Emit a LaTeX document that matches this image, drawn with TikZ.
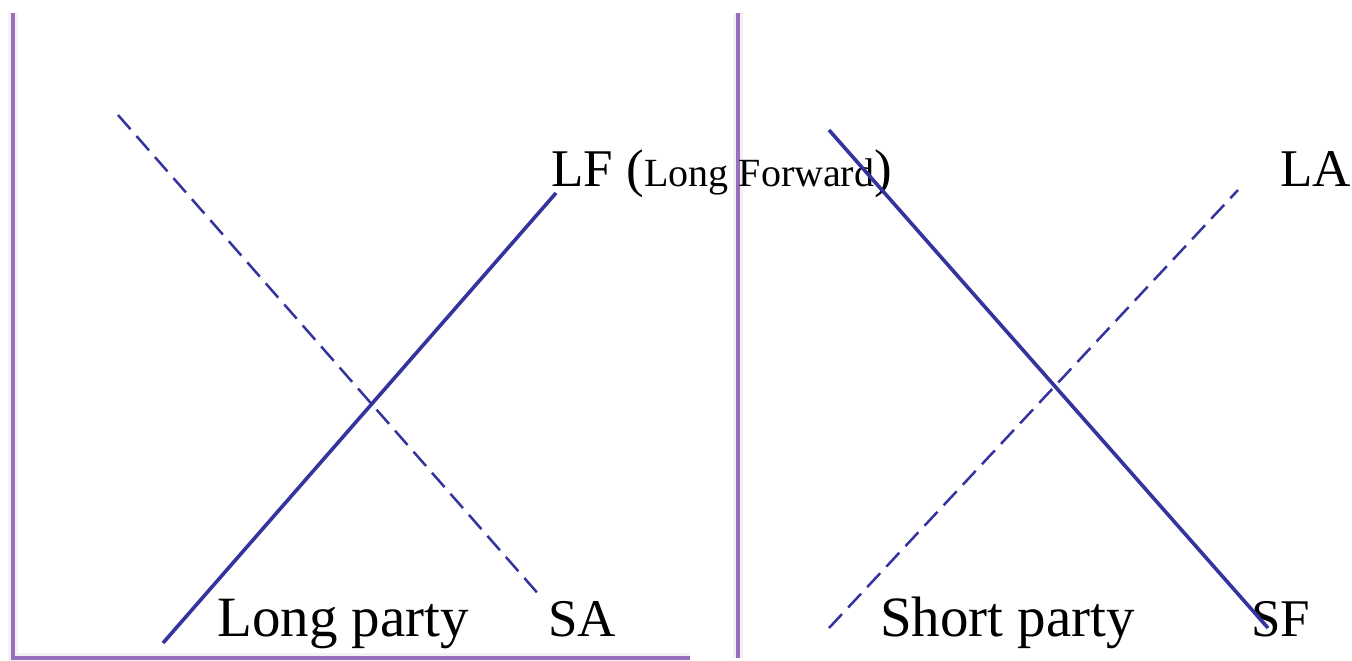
\documentclass[tikz,border=0pt]{standalone}
\usepackage{fontspec}
\setmainfont{Liberation Serif}
\begin{document}
\begin{tikzpicture}[x=1pt,y=-1pt,
  axisshade/.style={draw=black!5,line width=10pt},
  axisline/.style={draw={rgb,255:red,150;green,112;blue,188},line width=4pt},
  curve/.style={draw={rgb,255:red,52;green,52;blue,158},line width=3.6pt},
  dashcurve/.style={draw={rgb,255:red,52;green,52;blue,158},line width=2.5pt,dash pattern=on 19pt off 9pt},
  big/.style={inner sep=0pt,anchor=base west,font=\fontsize{57}{60}\selectfont},
  caps/.style={inner sep=0pt,anchor=base west,font=\fontsize{53}{60}\selectfont},
  small/.style={inner sep=0pt,anchor=base west,font=\fontsize{40}{44}\selectfont}]
\useasboundingbox[fill=white] (0,0) rectangle (1352,661);
% axis end points
\coordinate (o1) at (13,658);
\coordinate (t1) at (13,13);
\coordinate (x1) at (690,658);
\coordinate (o2) at (738,658);
\coordinate (t2) at (738,13);
% soft shadow under the axes
\draw[axisshade] (t1) -- (o1) -- (x1);
\draw[axisshade] (t2) -- (o2);
\draw[axisline] (t1) -- (o1) -- (x1);
\draw[axisline] (t2) -- (o2);
% left panel: long party
\coordinate (lf0) at (163,643);
\coordinate (lf1) at (556,193);
\coordinate (sa0) at (118,115);
\coordinate (sa1) at (541,597);
\draw[dashcurve] (sa0) -- (sa1);
\draw[curve] (lf0) -- (lf1);
% right panel: short party
\coordinate (sf0) at (829,130);
\coordinate (sf1) at (1268,628);
\coordinate (la0) at (829,628);
\coordinate (la1) at (1238,190);
\draw[dashcurve] (la0) -- (la1);
% labels
\node[caps] (lfl) at (551,186) {LF (};
\node[small] (lfs) at (lfl.base east) {Long Forward};
\node[caps] (lfr) at (lfs.base east) {)};
\node[caps] (lal) at (1280,186) {LA};
\node[big] (lpl) at (217,636) {Long party};
\node[caps] (sal) at (548,636) {SA};
\node[big] (spl) at (880,636) {Short party};
\node[caps] (sfl) at (1251,636) {SF};
\draw[curve] (sf0) -- (sf1);
\end{tikzpicture}
\end{document}
